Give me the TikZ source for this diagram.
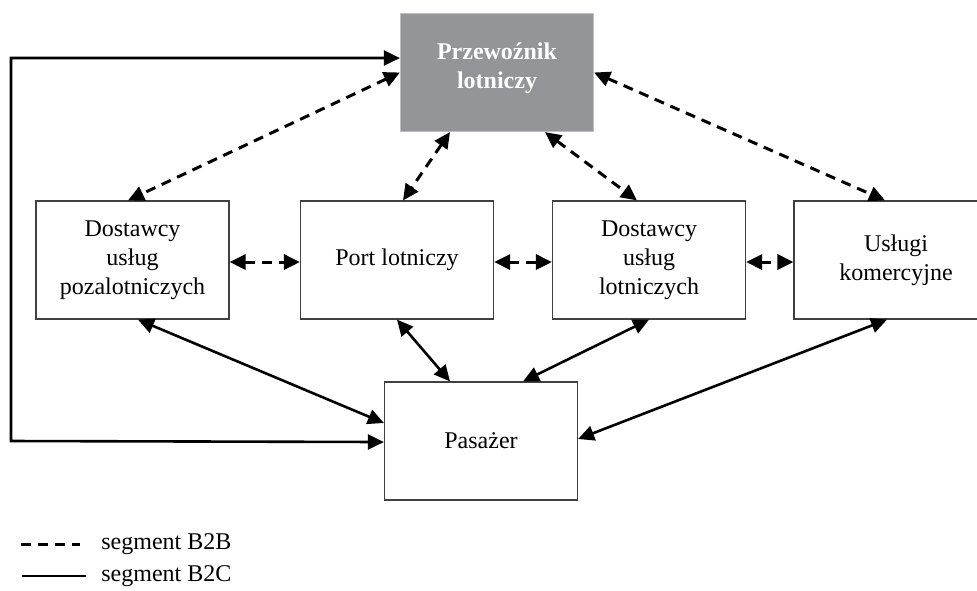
\documentclass[tikz,border=0pt]{standalone}
\usepackage{fontspec}
\setmainfont{Liberation Serif}
\usepackage{tikz}
\usetikzlibrary{arrows.meta,calc}
\definecolor{carriergray}{RGB}{147,149,153}
\tikzset{
  firm/.style={draw=black!75, line width=0.6pt, minimum width=96.5pt, minimum height=59pt, inner sep=0pt, align=center, font=\fontsize{12}{14.5}\selectfont},
  carrierbox/.style={firm, draw=black!25, fill=carriergray, text=white, text depth=7pt, font=\fontsize{12}{14.5}\selectfont\bfseries},
  btob/.style={line width=1.5pt, dash pattern=on 5pt off 3.5pt},
  btoc/.style={line width=1.3pt}
}

\begin{document}
\begin{tikzpicture}[line cap=butt,line join=miter,>={Triangle[length=8pt,width=7.5pt]},x=0.5pt,y=-0.5pt]
        \path[use as bounding box] (0,0) rectangle (977,590);
        \clip (0,0) rectangle (977,590);

        \node[carrierbox] (carrier) at (497,72.5) {Przewoźnik\\lotniczy};
        \node[firm] (dpoz) at (132.5,260) {Dostawcy\\usług\\pozalotniczych};
        \node[firm] (port) at (397,260) {Port lotniczy};
        \node[firm] (dlot) at (649,260) {Dostawcy\\usług\\lotniczych};
        \node[firm, minimum width=102pt] (uslugi) at (896,260) {Usługi\\komercyjne};
        \node[firm] (pasazer) at (481,441) {Pasażer};
        \coordinate (rail) at (11,0);

        \draw [btob,<->] (carrier.west) -- ($(dpoz.north)+(-4.5,0)$);
        \draw [btob,<->] ($(carrier.south)+(-47,0)$) -- ($(port.north)+(6,0)$);
        \draw [btob,<->] ($(carrier.south)+(48,0)$) -- ($(dlot.north)+(-12,0)$);
        \draw [btob,<->] (carrier.east) -- ($(uslugi.north)+(-11,0)$);
        \draw [btob,<->] ($(dpoz.east)+(0,2)$) -- ($(port.west)+(0,2)$);
        \draw [btob,<->] ($(port.east)+(0,2)$) -- ($(dlot.west)+(0,2)$);
        \draw [btob,<->] ($(dlot.east)+(0,2)$) -- ($(uslugi.west)+(0,2)$);

        \draw [btoc,<->] ($(carrier.west)+(0,-14.5)$) -| (rail |- pasazer.west) -- ($(pasazer.west)+(0,1)$);
        \draw [btoc,<->] ($(dpoz.south)+(5.5,0)$) -- ($(pasazer.west)+(0,-18)$);
        \draw [btoc,<->] (port.south) -- ($(pasazer.north)+(-31,0)$);
        \draw [btoc,<->] (dlot.south) -- ($(pasazer.north)+(42,0)$);
        \draw [btoc,<->] ($(uslugi.south)+(-9,0)$) -- ($(pasazer.east)+(0,-2)$);

        \node[anchor=west, inner sep=0pt, font=\fontsize{12}{14.5}\selectfont] (keyb2b) at (101,544) {segment B2B};
        \node[anchor=west, inner sep=0pt, font=\fontsize{12}{14.5}\selectfont] (keyb2c) at (101,576) {segment B2C};
        \draw [btob] ($(keyb2b.west)+(-80,0)$) -- ($(keyb2b.west)+(-21,0)$);
        \draw [btoc] ($(keyb2c.west)+(-79,0)$) -- ($(keyb2c.west)+(-15,0)$);

        \end{tikzpicture}
\end{document}
